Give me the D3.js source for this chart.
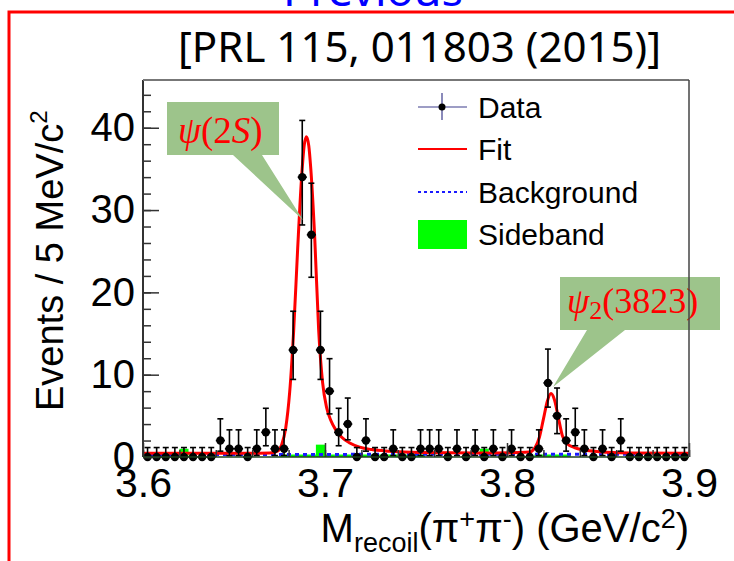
<!DOCTYPE html>
<html><head><meta charset="utf-8">
<script src="https://cdn.jsdelivr.net/npm/d3@7"></script>
<style>body{margin:0;background:#fff;} svg{display:block}</style>
</head><body><svg id="c" width="734" height="561"></svg>
<script>
// ---------- data ----------
const binLow = 3.6, binWidth = 0.005;
const counts = [0,0,0,0,0,0,0,0,2,1, 1,0,1,3,1,1,13,34,27,13, 8,3,4,0,2,0,0,1,0,0,
                1,1,1,0,1,0,1,0,1,0, 1,0,0,1,9,5,2,3,1,0, 1,0,2,0,0,0,0,0,0,0];
const sideband = [0,0,0,0,1.0,0,0,0,0,0, 0,0,0,0,0,0.3,0.3,0.3,0.3,1.5, 0.3,0.3,0.3,0.3,0.3,0.3,0.3,0.3,0.3,0.3,
                  0.3,0,0,0,0,0,0,1.0,0,0, 0,0,0,0.3,0.3,0.3,0.3,0,0,0, 0,0,0,0,0,0,0,0,0,0];
// Poisson 68% interval table (per count)
const poisCounts   = [0,1,2,3,4,5,8,9,13,27,34];
const poisErrLow   = [0,0.827,1.291,1.633,1.914,2.159,2.764,2.942,3.575,5.165,5.809];
const poisErrHigh  = [1.148,2.300,2.638,2.918,3.163,3.382,3.945,4.110,4.705,6.260,6.888];
const fitX = [3.6,3.63,3.66,3.6697,3.6741,3.6762,3.6784,3.6806,3.6828,3.6850,3.6872,3.6886,3.6898,3.6911,3.6922,
              3.6944,3.6965,3.6987,3.7009,3.7031,3.7059,3.7092,3.7136,3.7190,3.7256,3.7355,3.7519,3.7849,3.8068,
              3.8123,3.8156,3.8178,3.8200,3.8222,3.8242,3.8260,3.8282,3.8304,3.8331,3.8370,3.8425,3.8507,3.8671,3.9];
const fitY = [0.45,0.45,0.46,0.48,0.75,1.5,3.5,7.9,15.4,25.4,34.2,37.9,38.9,37.8,35.0,
              26.4,15.5,9.0,6.0,4.5,3.3,2.4,1.7,1.2,0.9,0.7,0.55,0.5,0.55,
              0.6,1.2,2.4,4.6,6.8,7.7,7.0,4.8,2.6,1.6,1.15,0.85,0.65,0.5,0.45];
const bgX = [3.6, 3.9];
const bgY = [0.3, 0.35];
const xTicks = [3.6, 3.7, 3.8, 3.9];
const yTicks = [0, 10, 20, 30, 40];
const legendLabels = ["Data", "Fit", "Background", "Sideband"];

// ---------- layout ----------
const svg = d3.select("#c");
const X0 = 143, X1 = 689, Y0 = 457, Y1 = 80;
const x = d3.scaleLinear().domain([3.6, 3.9]).range([X0, X1]);
const y = d3.scaleLinear().domain([0, 45.8]).range([Y0, Y1]);
const SANS = "'Liberation Sans', Arial, sans-serif";

// red frame + blue header
svg.append("rect").attr("x", 9).attr("y", 12).attr("width", 760).attr("height", 600)
  .attr("fill", "none").attr("stroke", "#ff0000").attr("stroke-width", 3);
svg.append("text").attr("x", 283).attr("y", 6).attr("textLength", 180).attr("lengthAdjust", "spacingAndGlyphs")
  .attr("font-family", "'Noto Sans', sans-serif").attr("font-size", 44).attr("fill", "#0000ff").text("Previous");
svg.append("text").attr("x", 178).attr("y", 62).attr("textLength", 483).attr("lengthAdjust", "spacingAndGlyphs")
  .attr("font-family", "'Noto Sans', sans-serif").attr("font-size", 41).attr("fill", "#000").text("[PRL 115, 011803 (2015)]");

// sideband histogram
const bins = counts.map((c, i) => ({lo: binLow + i*binWidth, hi: binLow + (i+1)*binWidth, c: c, s: sideband[i], e: poisCounts.indexOf(c)}));
svg.append("g").selectAll("rect").data(bins.filter(b => b.s > 0)).join("rect")
  .attr("x", b => x(b.lo)).attr("width", b => x(b.hi) - x(b.lo))
  .attr("y", b => y(b.s)).attr("height", b => y(0) - y(b.s)).attr("fill", "#00ff00");

// background
const line = d3.line().x(d => x(d[0])).y(d => y(d[1]));
svg.append("path").datum(bgX.map((v, i) => [v, bgY[i]])).attr("d", line)
  .attr("fill", "none").attr("stroke", "#1a1aff").attr("stroke-width", 3).attr("stroke-dasharray", "4,4");
// fit
svg.append("path").datum(fitX.map((v, i) => [v, fitY[i]])).attr("d", line.curve(d3.curveMonotoneX))
  .attr("fill", "none").attr("stroke", "#ff0000").attr("stroke-width", 3);

// data points
const gd = svg.append("g").attr("stroke", "#000").attr("stroke-width", 1.6);
bins.forEach(b => {
  const cx = x((b.lo + b.hi) / 2), cy = y(b.c);
  const yl = y(b.c - poisErrLow[b.e]), yh = y(b.c + poisErrHigh[b.e]);
  gd.append("line").attr("x1", x(b.lo)).attr("x2", x(b.hi)).attr("y1", cy).attr("y2", cy);
  gd.append("line").attr("x1", cx).attr("x2", cx).attr("y1", yl).attr("y2", yh);
  gd.append("line").attr("x1", cx - 3).attr("x2", cx + 3).attr("y1", yh).attr("y2", yh);
  if (b.c > 0) gd.append("line").attr("x1", cx - 3).attr("x2", cx + 3).attr("y1", yl).attr("y2", yl);
  gd.append("circle").attr("cx", cx).attr("cy", cy).attr("r", 4.2).attr("fill", "#000").attr("stroke", "none");
});

// axes
const yMinor = d3.range(0, 46, 2);
const xMinor = d3.range(0, 16).map(i => 3.6 + i * 0.02);
svg.append("g").attr("transform", `translate(${X0},0)`)
  .call(d3.axisLeft(y).tickValues(yMinor).tickSize(-8).tickFormat(""))
  .call(g => g.select(".domain").remove());
svg.append("g").attr("transform", `translate(0,${Y0})`)
  .call(d3.axisBottom(x).tickValues(xMinor).tickSize(-7).tickFormat(""))
  .call(g => g.select(".domain").remove());
const ya = svg.append("g").attr("transform", `translate(${X0},0)`)
  .call(d3.axisLeft(y).tickValues(yTicks).tickSize(-16).tickPadding(8).tickFormat(d3.format("d")));
ya.select(".domain").remove();
ya.selectAll("text").attr("font-family", SANS).attr("font-size", 40).attr("fill", "#000");
const xa = svg.append("g").attr("transform", `translate(0,${Y0})`)
  .call(d3.axisBottom(x).tickValues(xTicks).tickSize(-14).tickPadding(11).tickFormat(d3.format(".1f")));
xa.select(".domain").remove();
xa.selectAll("text").attr("font-family", SANS).attr("font-size", 41).attr("fill", "#000");
svg.selectAll(".tick line").attr("stroke", "#333").attr("stroke-width", 1.5);

// frame
svg.append("line").attr("x1", X0).attr("x2", X0).attr("y1", Y1).attr("y2", Y0).attr("stroke", "#333").attr("stroke-width", 2);
svg.append("line").attr("x1", X0).attr("x2", X1).attr("y1", Y0).attr("y2", Y0).attr("stroke", "#1f3f1f").attr("stroke-width", 1.5);
svg.append("line").attr("x1", X0).attr("x2", X1).attr("y1", Y1).attr("y2", Y1).attr("stroke", "#777").attr("stroke-width", 2);

// axis titles
const yt = svg.append("text").attr("transform", "translate(63,411) rotate(-90)")
  .attr("font-family", SANS).attr("font-size", 38).attr("fill", "#000");
yt.append("tspan").text("Events / 5 MeV/c");
yt.append("tspan").attr("font-size", 24).attr("dy", -16).text("2");
const xt = svg.append("text").attr("x", X1).attr("y", 542).attr("text-anchor", "end")
  .attr("font-family", SANS).attr("font-size", 40).attr("fill", "#000");
xt.append("tspan").text("M");
xt.append("tspan").attr("font-size", 27).attr("dy", 10).text("recoil");
xt.append("tspan").attr("dy", -10).text("(π");
xt.append("tspan").attr("font-size", 27).attr("dy", -14).text("+");
xt.append("tspan").attr("dy", 14).text("π");
xt.append("tspan").attr("font-size", 27).attr("dy", -14).text("-");
xt.append("tspan").attr("dy", 14).text(") (GeV/c");
xt.append("tspan").attr("font-size", 27).attr("dy", -14).text("2");
xt.append("tspan").attr("dy", 14).text(")");

// legend
const lg = svg.append("g").attr("font-family", SANS).attr("font-size", 30).attr("fill", "#000");
const rows = [107, 149, 192, 234];
lg.append("line").attr("x1", 418).attr("x2", 467).attr("y1", rows[0]).attr("y2", rows[0]).attr("stroke", "#3c3c8c").attr("stroke-width", 1.2);
lg.append("line").attr("x1", 442).attr("x2", 442).attr("y1", rows[0] - 14).attr("y2", rows[0] + 13).attr("stroke", "#3c3c8c").attr("stroke-width", 1.2);
lg.append("circle").attr("cx", 442).attr("cy", rows[0]).attr("r", 3.5).attr("fill", "#000");
lg.append("line").attr("x1", 418).attr("x2", 467).attr("y1", rows[1]).attr("y2", rows[1]).attr("stroke", "#ff0000").attr("stroke-width", 1.8);
lg.append("line").attr("x1", 418).attr("x2", 467).attr("y1", rows[2]).attr("y2", rows[2]).attr("stroke", "#1a1aff").attr("stroke-width", 2).attr("stroke-dasharray", "3,3");
lg.append("rect").attr("x", 418).attr("y", rows[3] - 14).attr("width", 49).attr("height", 29).attr("fill", "#00ff00");
legendLabels.forEach((t, i) => lg.append("text").attr("x", 478).attr("y", rows[i]).attr("dy", "0.36em").text(t));

// callouts
const CALLOUT = "#9dc48b";
svg.append("path").attr("d", "M167,102H279V155H262L303,220L233,155H167Z").attr("fill", CALLOUT);
svg.append("path").attr("d", "M560,277H720V330H625L553,387L587,330H560Z").attr("fill", CALLOUT);
const SERIF = "'Liberation Serif', 'DejaVu Serif', serif";
const c1 = svg.append("text").attr("x", 178).attr("y", 143).attr("font-family", SERIF).attr("font-size", 37).attr("fill", "#ff0000");
c1.append("tspan").attr("font-style", "italic").text("ψ");
c1.append("tspan").text("(2");
c1.append("tspan").attr("font-style", "italic").text("S");
c1.append("tspan").text(")");
const c2 = svg.append("text").attr("x", 567).attr("y", 313).attr("font-family", SERIF).attr("font-size", 36).attr("fill", "#ff0000");
c2.append("tspan").attr("font-style", "italic").text("ψ");
c2.append("tspan").attr("font-size", 26).attr("dy", 6).text("2");
c2.append("tspan").attr("dy", -6).text("(3823)");

// right frame line drawn on top
svg.append("line").attr("x1", X1).attr("x2", X1).attr("y1", Y1).attr("y2", Y0).attr("stroke", "#444").attr("stroke-width", 1.5);
</script></body></html>
